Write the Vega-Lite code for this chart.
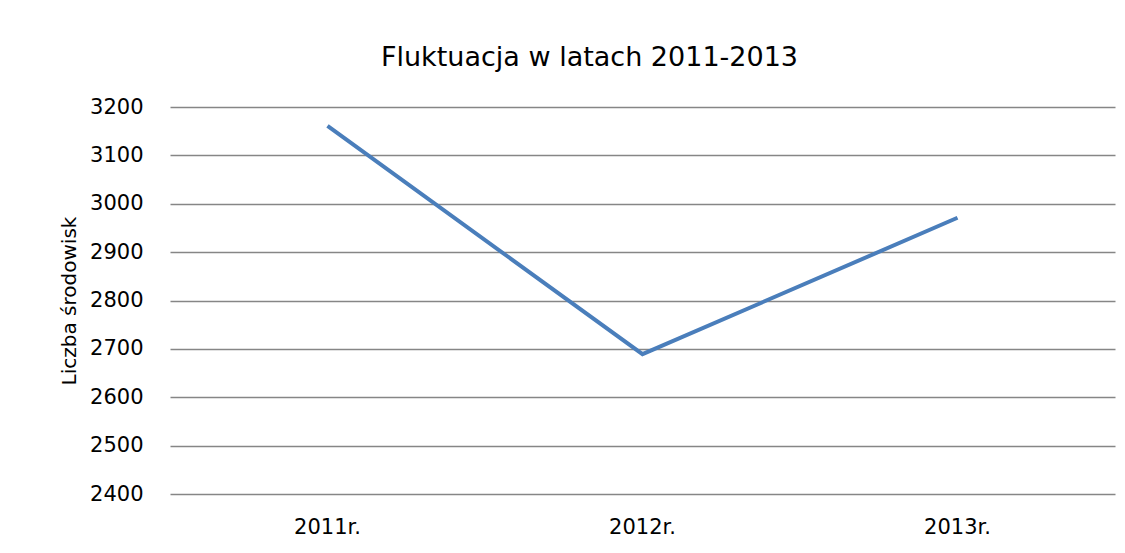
{
  "$schema": "https://vega.github.io/schema/vega-lite/v6.json",
  "autosize": {"type": "none"},
  "width": 945,
  "height": 387,
  "padding": {"left": 170, "top": 107, "right": 10, "bottom": 59},
  "background": "white",
  "title": {
    "text": "Fluktuacja w latach 2011-2013",
    "font": "DejaVu Sans",
    "fontSize": 27,
    "fontWeight": "normal",
    "color": "#000000",
    "anchor": "middle",
    "dx": -53,
    "offset": 24
  },
  "data": {
    "values": [
      {"rok": "2011r.", "liczba": 3161},
      {"rok": "2012r.", "liczba": 2689},
      {"rok": "2013r.", "liczba": 2971}
    ]
  },
  "mark": {"type": "line", "color": "#4a7ebb", "strokeWidth": 4},
  "encoding": {
    "x": {
      "field": "rok",
      "type": "ordinal",
      "sort": null,
      "scale": {"type": "band", "paddingInner": 0, "paddingOuter": 0},
      "axis": {
        "title": null,
        "labelAngle": 0,
        "labelFont": "DejaVu Sans",
        "labelFontSize": 21,
        "labelColor": "#000000",
        "labelPadding": 22,
        "domain": false,
        "ticks": false,
        "grid": false
      }
    },
    "y": {
      "field": "liczba",
      "type": "quantitative",
      "scale": {"domain": [2400, 3200], "nice": false, "zero": false},
      "axis": {
        "title": "Liczba środowisk",
        "titleFont": "DejaVu Sans",
        "titleFontSize": 20,
        "titleFontWeight": "normal",
        "titleColor": "#000000",
        "titlePadding": 10,
        "values": [2400, 2500, 2600, 2700, 2800, 2900, 3000, 3100, 3200],
        "format": "d",
        "labelFont": "DejaVu Sans",
        "labelFontSize": 21,
        "labelColor": "#000000",
        "labelPadding": 27,
        "domain": false,
        "ticks": false,
        "grid": true,
        "gridColor": "#868686",
        "gridWidth": 1.5
      }
    }
  },
  "config": {"view": {"stroke": null}}
}
